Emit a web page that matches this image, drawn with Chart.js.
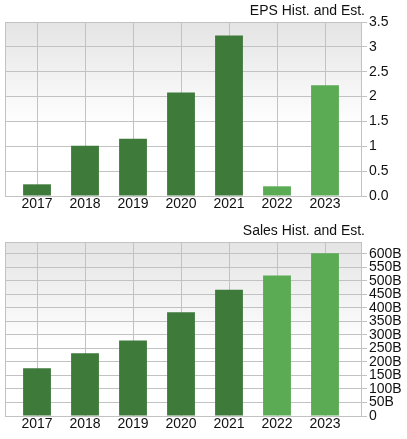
<!DOCTYPE html>
<html>
<head>
<meta charset="utf-8">
<script src="https://cdn.jsdelivr.net/npm/chart.js@4.4.1/dist/chart.umd.min.js"></script>
<style>
  body { margin: 0; background: #fff; }
  canvas { display: block; }
</style>
</head>
<body>
<canvas id="eps" width="407" height="220"></canvas>
<canvas id="sales" width="407" height="219"></canvas>
<script>
// data
const years = ['2017', '2018', '2019', '2020', '2021', '2022', '2023'];
const isEstimate = [false, false, false, false, false, true, true];
const epsValues = [0.235, 1.01, 1.15, 2.08, 3.23, 0.195, 2.23];
const salesValues = [177, 232, 279, 384, 467, 520, 602]; // billions
const epsTickLabels = ['0.0', '0.5', '1', '1.5', '2', '2.5', '3', '3.5'];
const salesTickLabels = ['0', '50B', '100B', '150B', '200B', '250B', '300B',
  '350B', '400B', '450B', '500B', '550B', '600B'];

const histColor = '#3e7a3a';
const estColor = '#5baa54';
const gridColor = '#c2c2c2';
const font = { family: '"Liberation Sans", Arial, sans-serif', size: 14 };

// gradient plot background, frame and the right-aligned caption
const frame = {
  id: 'frame',
  beforeDraw(chart) {
    const { ctx, chartArea: a } = chart;
    const g = ctx.createLinearGradient(0, a.top, 0, a.bottom);
    g.addColorStop(0, '#e4e4e4');
    g.addColorStop(0.6, '#ffffff');
    ctx.save();
    ctx.fillStyle = g;
    ctx.fillRect(a.left, a.top, a.right - a.left, a.bottom - a.top);
    ctx.strokeStyle = gridColor;
    ctx.lineWidth = 1;
    ctx.strokeRect(Math.round(a.left) + 0.5, Math.round(a.top) + 0.5,
      Math.round(a.right - a.left), Math.round(a.bottom - a.top));
    ctx.restore();
  },
  afterDraw(chart, args, opts) {
    const ctx = chart.ctx;
    ctx.save();
    ctx.font = font.size + 'px ' + font.family;
    ctx.fillStyle = '#111';
    ctx.textAlign = 'right';
    ctx.textBaseline = 'alphabetic';
    ctx.fillText(opts.text, 365, opts.y);
    ctx.restore();
  }
};

function makeChart(id, values, tickLabels, yMax, yStep, caption) {
  const canvas = document.getElementById(id);
  const xHeight = canvas.height - 22 - 174;
  return new Chart(canvas, {
    type: 'bar',
    data: {
      datasets: [{
        data: values.map((v, i) => ({ x: i, y: v })),
        backgroundColor: isEstimate.map(e => e ? estColor : histColor),
        borderWidth: 0,
        categoryPercentage: 1,
        barPercentage: 0.58
      }]
    },
    options: {
      responsive: false,
      animation: false,
      devicePixelRatio: 1,
      layout: { padding: { left: 5, top: 22, right: 0, bottom: 0 } },
      plugins: {
        legend: { display: false },
        tooltip: { enabled: false },
        frame: { text: caption, y: 15 }
      },
      scales: {
        x: {
          type: 'linear',
          offset: false,
          min: -0.667,
          max: 6.75,
          grid: { color: gridColor, drawTicks: false, offset: false },
          border: { display: false },
          ticks: {
            stepSize: 1,
            includeBounds: false,
            autoSkip: false,
            maxRotation: 0,
            padding: 0,
            color: '#111',
            font,
            callback: v => years[v] ?? null
          },
          afterFit: s => { s.height = xHeight; }
        },
        y: {
          position: 'right',
          min: 0,
          max: yMax,
          grid: { color: gridColor, tickLength: 6 },
          border: { display: false },
          ticks: {
            stepSize: yStep,
            includeBounds: false,
            autoSkip: false,
            padding: 2,
            color: '#111',
            font,
            callback: (v, i) => tickLabels[i] ?? null
          },
          afterFit: s => { s.width = 46; }
        }
      }
    },
    plugins: [frame]
  });
}

makeChart('eps', epsValues, epsTickLabels, 3.5, 0.5, 'EPS Hist. and Est.');
makeChart('sales', salesValues, salesTickLabels, 644, 50, 'Sales Hist. and Est.');
</script>
</body>
</html>
